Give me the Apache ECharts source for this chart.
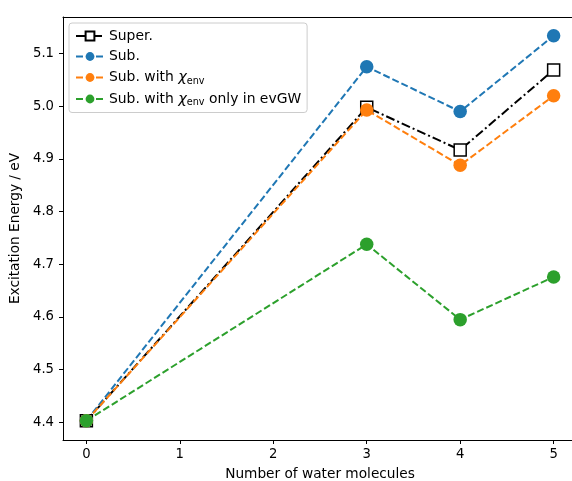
<!DOCTYPE html>
<html>
<head>
<meta charset="utf-8">
<script src="https://cdn.jsdelivr.net/npm/echarts@6/dist/echarts.min.js"></script>
<style>
  html, body { margin: 0; padding: 0; background: #fff; }
  #main { width: 572px; height: 481px; }
</style>
</head>
<body>
<div id="main"></div>
<script>
// number of water molecules
var waters = [0, 3, 4, 5];
// excitation energies (eV)
var superVals = [4.403, 4.998, 4.917, 5.069];
var subVals = [4.403, 5.075, 4.990, 5.134];
var subEnvVals = [4.403, 4.993, 4.888, 5.020];
var subEnvGWVals = [4.403, 4.738, 4.595, 4.676];
// tick labels
var xTicks = [0, 1, 2, 3, 4, 5];
var yTicks = [4.4, 4.5, 4.6, 4.7, 4.8, 4.9, 5.0, 5.1];

var FONT = 'DejaVu Sans';

var pairs = function(ys) {
    return waters.map(function(x, i) { return [x, ys[i]]; });
};

// legend labels with subscript
var legendText = {
    'Super.': 'Super.',
    'Sub.': 'Sub.',
    'Sub. with χenv': 'Sub. with {chi|χ}{sub|env}',
    'Sub. with χenv only in evGW': 'Sub. with {chi|χ}{sub|env} only in evGW'
};

var chart = echarts.init(document.getElementById('main'));

var option = {
    animation: false,
    backgroundColor: '#fff',
    grid: {
        left: 63,
        top: 17,
        width: 514,
        height: 423,
        outerBoundsMode: 'none',
        containLabel: false
    },
    legend: {
        orient: 'vertical',
        left: 69,
        top: 23,
        padding: [5, 6, 5, 6],
        itemGap: 4.5,
        itemWidth: 28,
        itemHeight: 11,
        backgroundColor: 'rgba(255,255,255,0.8)',
        borderColor: '#cccccc',
        borderWidth: 1,
        borderRadius: 3,
        data: ['Super.', 'Sub.', 'Sub. with χenv', 'Sub. with χenv only in evGW'],
        formatter: function(name) { return legendText[name]; },
        textStyle: {
            fontFamily: FONT,
            fontSize: 13.9,
            lineHeight: 16,
            color: '#000',
            rich: {
                chi: { fontFamily: FONT, fontSize: 14.5, fontStyle: 'italic', color: '#000', lineHeight: 16 },
                sub: { fontFamily: FONT, fontSize: 9.7, color: '#000', padding: [7, 0, 0, 0], lineHeight: 16 }
            }
        }
    },
    xAxis: [{
        type: 'value',
        min: -0.25,
        max: 5.25,
        name: 'Number of water molecules',
        nameLocation: 'middle',
        nameGap: 27,
        nameTextStyle: { fontFamily: FONT, fontSize: 13.7, color: '#000' },
        axisLine: { show: true, onZero: false, lineStyle: { color: '#000', width: 1 } },
        axisTick: { show: true, length: 4, customValues: xTicks, lineStyle: { color: '#000' } },
        axisLabel: { customValues: xTicks, margin: 8, fontFamily: FONT, fontSize: 13.2, color: '#000' },
        splitLine: { show: false }
    }, {
        // top frame line
        type: 'value',
        position: 'top',
        min: -0.25,
        max: 5.25,
        axisLine: { show: true, onZero: false, lineStyle: { color: '#000', width: 1 } },
        axisTick: { show: false },
        axisLabel: { show: false },
        splitLine: { show: false }
    }],
    yAxis: {
        type: 'value',
        min: 4.3665,
        max: 5.1695,
        name: 'Excitation Energy / eV',
        nameLocation: 'middle',
        nameGap: 38,
        nameTextStyle: { fontFamily: FONT, fontSize: 13.7, color: '#000' },
        axisLine: { show: true, onZero: false, lineStyle: { color: '#000', width: 1 } },
        axisTick: { show: true, length: 4, customValues: yTicks, lineStyle: { color: '#000' } },
        axisLabel: {
            customValues: yTicks,
            margin: 9,
            fontFamily: FONT,
            fontSize: 13.2,
            color: '#000',
            formatter: function(v) { return v.toFixed(1); }
        },
        splitLine: { show: false }
    },
    series: [{
        name: 'Super.',
        type: 'line',
        data: pairs(superVals),
        symbol: 'rect',
        symbolSize: 12,
        color: '#000',
        itemStyle: { color: '#fff', borderColor: '#000', borderWidth: 1.5 },
        lineStyle: { color: '#000', width: 2, type: [9, 3, 2, 3] },
        z: 2
    }, {
        name: 'Sub.',
        type: 'line',
        data: pairs(subVals),
        symbol: 'circle',
        symbolSize: 13.5,
        color: '#1f77b4',
        itemStyle: { color: '#1f77b4' },
        lineStyle: { color: '#1f77b4', width: 2, type: [7, 3] },
        z: 3
    }, {
        name: 'Sub. with χenv',
        type: 'line',
        data: pairs(subEnvVals),
        symbol: 'circle',
        symbolSize: 13.5,
        color: '#ff7f0e',
        itemStyle: { color: '#ff7f0e' },
        lineStyle: { color: '#ff7f0e', width: 2, type: [7, 3] },
        z: 4
    }, {
        name: 'Sub. with χenv only in evGW',
        type: 'line',
        data: pairs(subEnvGWVals),
        symbol: 'circle',
        symbolSize: 13.5,
        color: '#2ca02c',
        itemStyle: { color: '#2ca02c' },
        lineStyle: { color: '#2ca02c', width: 2, type: [7, 3] },
        z: 5
    }]
};

chart.setOption(option);
</script>
</body>
</html>
